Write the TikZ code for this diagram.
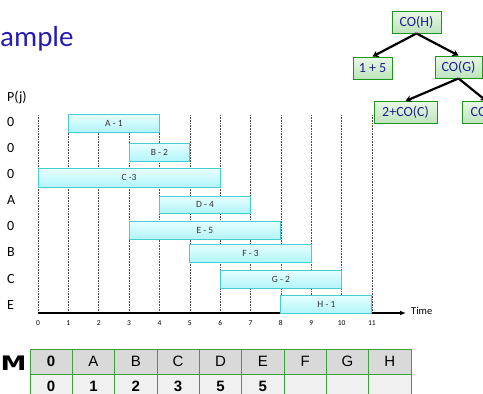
\documentclass[tikz,border=0pt]{standalone}
\usepackage{fontspec}
\setmainfont{Carlito}
\newfontfamily\arialf{Liberation Sans}
\newfontfamily\heavyf{DejaVu Sans}
\usetikzlibrary{arrows.meta}
\definecolor{titleblue}{RGB}{38,28,178}
\definecolor{treeblue}{RGB}{30,30,150}
\definecolor{barline}{RGB}{70,205,212}
\definecolor{bartop}{RGB}{232,255,255}
\definecolor{barbot}{RGB}{178,245,250}
\definecolor{grline}{RGB}{30,150,30}
\definecolor{grtop}{RGB}{232,248,230}
\definecolor{grbot}{RGB}{190,228,188}
\definecolor{hdrfill}{RGB}{217,217,217}
\definecolor{rowfill}{RGB}{240,240,240}
\definecolor{tblline}{RGB}{60,160,60}
\tikzset{
  bar/.style={draw=barline, line width=1pt, top color=bartop, bottom color=barbot,
    inner sep=0pt, minimum height=18pt, font=\fontsize{9.5}{11}\selectfont, text=black!80},
  cobox/.style={draw=grline, line width=0.9pt, top color=grtop, bottom color=grbot,
    inner sep=0pt, minimum height=22pt, font=\fontsize{14}{16}\selectfont, text=treeblue},
  treearrow/.style={line width=2.2pt, -{Stealth[length=6pt,width=7pt]}},
  grid/.style={densely dotted, black!70, line width=0.6pt},
  plab/.style={anchor=west, font=\fontsize{14}{16}\selectfont, inner sep=0pt},
  tick/.style={font=\fontsize{7.5}{8}\selectfont, inner sep=0pt},
  hcell/.style={draw=tblline, line width=0.8pt, fill=hdrfill, minimum width=42.33pt,
    minimum height=25pt, inner sep=0pt, font=\arialf\fontsize{15}{17}\selectfont},
  vcell/.style={draw=tblline, line width=0.8pt, fill=rowfill, minimum width=42.33pt,
    minimum height=25pt, inner sep=0pt, font=\arialf\bfseries\fontsize{15}{17}\selectfont},
}
\begin{document}
\begin{tikzpicture}[x=1pt,y=-1pt]
\useasboundingbox (0,0) rectangle (483,394);
\clip (0,0) rectangle (483,394);
% title
\node[anchor=west, inner sep=0pt, text=titleblue, font=\fontsize{29}{32}\selectfont] (title) at (0,39) {ample};
% grid lines
\foreach \t in {0,...,11}{
  \pgfmathsetmacro{\xx}{38+30.36*\t}
  \draw[grid] (\xx,115) -- (\xx,313);
  \node[tick] (tk\t) at (\xx,323) {\t};
}
% axis
\coordinate (ax0) at (38,313);
\coordinate (ax1) at (406,313);
\draw[line width=1.4pt, -{Latex[length=6pt,width=5pt]}] (ax0) -- (ax1);
\node[anchor=west, inner sep=0pt, font=\fontsize{10.5}{12}\selectfont] (time) at (411,311) {Time};
% P(j)
\node[plab] (pj) at (7,98) {P(j)};
\foreach \lab/\yy/\nm in {0/122/p1,0/148/p2,0/174/p3,A/200/p4,0/226/p5,B/252/p6,C/279/p7,E/305/p8}{
  \node[plab] (\nm) at (7,\yy) {\lab};
}
% bars
\foreach \a/\b/\ya/\yb/\txt/\nm in {1/4/114/132/A - 1/bA,3/5/143/161/B - 2/bB,0/6/168/187/C -3/bC,4/7/196/213/D - 4/bD,3/8/221/239/E - 5/bE,5/9/244/262/F - 3/bF,6/10/270/288/G - 2/bG,8/11/295/313/H - 1/bH}{
  \pgfmathsetmacro{\xa}{38+30.36*\a}
  \pgfmathsetmacro{\xb}{38+30.36*\b}
  \pgfmathsetmacro{\xm}{(\xa+\xb)/2}
  \pgfmathsetmacro{\ym}{(\ya+\yb)/2}
  \pgfmathsetmacro{\ww}{\xb-\xa}
  \pgfmathsetmacro{\hh}{\yb-\ya}
  \node[bar, minimum width=\ww pt, minimum height=\hh pt] (\nm) at (\xm,\ym) {\txt};
}
% tree
\node[cobox, minimum width=49pt] (coh) at (416.5,22) {CO(H)};
\node[cobox, minimum width=39pt] (one) at (372.5,68) {1 + 5};
\node[cobox, minimum width=47pt] (cog) at (458.5,67) {CO(G)};
\node[cobox, minimum width=63pt] (coc) at (405.5,112.5) {2+CO(C)};
\node[cobox, minimum width=49pt] (cof) at (486.5,112.5) {CO(F)};
\draw[treearrow] (coh.south) -- (one.north);
\draw[treearrow] (coh.south) -- (cog.north);
\draw[treearrow] (cog.south) -- (coc.north);
\draw[treearrow] (cog.south) -- (cof.north);
% table
\node[anchor=center, inner sep=0pt, font=\heavyf\bfseries\fontsize{20}{22}\selectfont] (mlab) at (13.5,363) {\scalebox{1.3}[1]{M}};
\foreach \h/\v [count=\i from 0] in {0/0,A/1,B/2,C/3,D/5,E/5,F/,G/,H/}{
  \pgfmathsetmacro{\cx}{30+42.33*\i+21.17}
  \node[hcell] (h\i) at (\cx,361.5) {\ifnum\i=0 \bfseries\fi\h};
  \node[vcell] (v\i) at (\cx,386.5) {\v};
}
\end{tikzpicture}
\end{document}
